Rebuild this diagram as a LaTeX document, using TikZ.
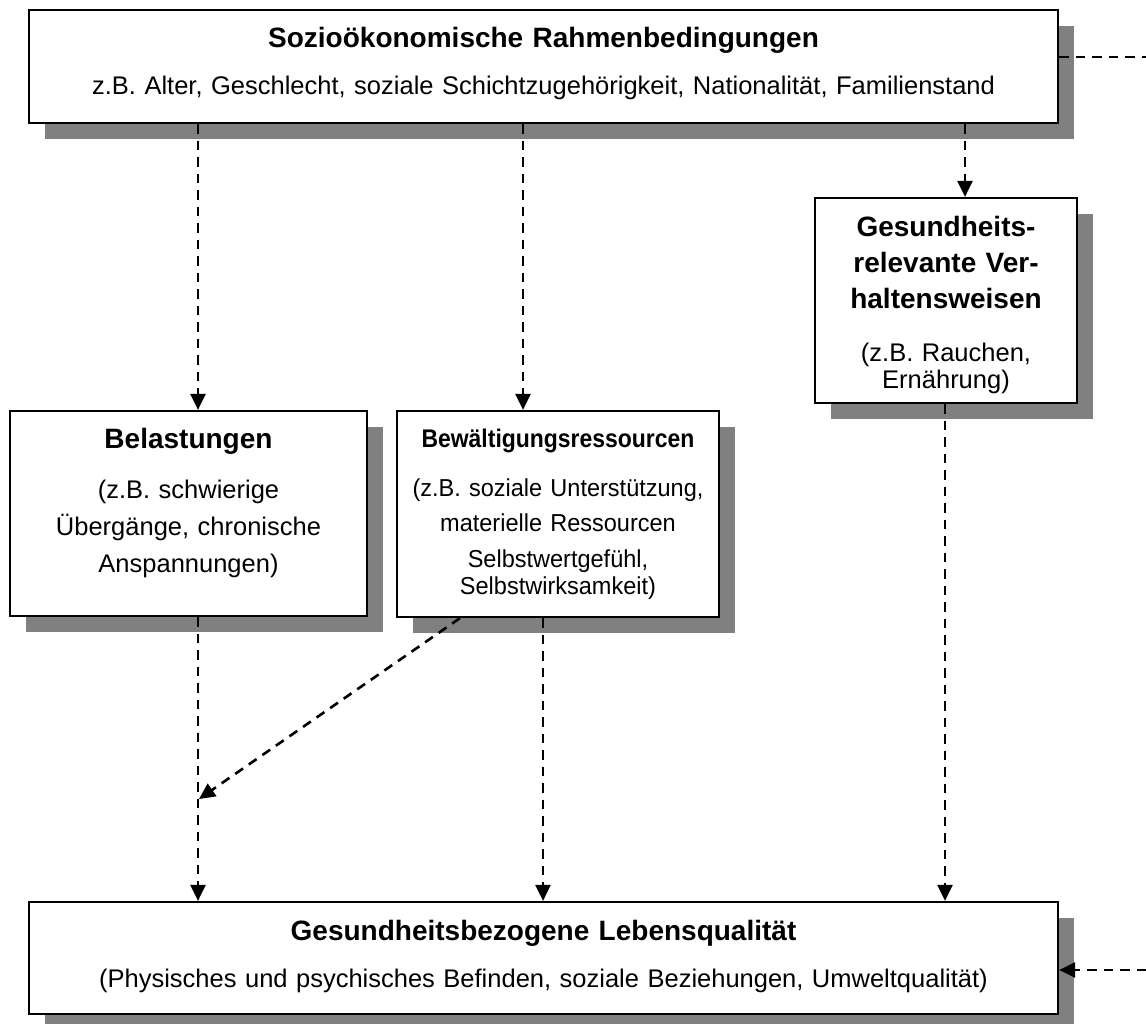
\documentclass[tikz,border=0pt]{standalone}
\usepackage{fontspec}
\setmainfont{Liberation Sans}
\newfontfamily\narrowttl[FakeStretch=0.9]{Liberation Sans}
\newfontfamily\narrowbody[FakeStretch=0.96]{Liberation Sans}
\usetikzlibrary{shadows,arrows.meta}
\definecolor{shadowgray}{RGB}{128,128,128}
\tikzset{
  box/.style={draw=black, line width=2.2pt, fill=white, inner sep=0pt,
    drop shadow={shadow xshift=16pt, shadow yshift=-16pt, fill=shadowgray, opacity=1}},
  ttl/.style={anchor=base, inner sep=0pt, align=center, text width=#1,
    font=\bfseries\fontsize{28}{36}\selectfont},
  body/.style={anchor=base, inner sep=0pt, align=center, text width=#1,
    font=\fontsize{25.5}{36}\selectfont},
  conn/.style={draw=black, line width=2.6pt, dash pattern=on 9.5pt off 7pt,
    -{Triangle[length=16pt,width=15pt]}},
  plainconn/.style={draw=black, line width=2.6pt, dash pattern=on 9.5pt off 7pt}
}
\begin{document}
\begin{tikzpicture}[x=1pt,y=-1pt]
\useasboundingbox (0,0) rectangle (1146,1024);
% boxes
\node[box, minimum width=1029pt, minimum height=113pt] (top) at (543.5,66.5) {};
\node[box, minimum width=262pt, minimum height=205pt] (ges) at (946,300.5) {};
\node[box, minimum width=357pt, minimum height=205pt] (bel) at (188.5,513.5) {};
\node[box, minimum width=322pt, minimum height=206pt] (bew) at (558,514) {};
\node[box, minimum width=1029pt, minimum height=112pt] (bot) at (543.5,958) {};
% texts
\node[ttl=1000pt] (topT) at (543.5,48) {Sozioökonomische Rahmenbedingungen};
\node[body=1000pt] (topB) at (543.5,95) {z.B. Alter, Geschlecht, soziale Schichtzugehörigkeit, Nationalität, Familienstand};
\node[ttl=400pt] (gesT) at (946,237) {Gesundheits-\\relevante Ver-\\haltensweisen};
\node[body=400pt] (gesB) at (946,362) {(z.B. Rauchen,\\[-9pt]Ernährung)};
\node[ttl=400pt] (belT) at (188.5,448) {Belastungen};
\node[body=400pt, font=\fontsize{25.5}{37}\selectfont] (belB) at (188.5,498) {(z.B. schwierige\\Übergänge, chronische\\Anspannungen)};
\node[ttl=400pt, font=\narrowttl\bfseries\fontsize{25.5}{36}\selectfont] (bewT) at (558,447) {Bewältigungsressourcen};
\node[body=400pt, font=\narrowbody\fontsize{24.5}{35.5}\selectfont] (bewB) at (558,496) {(z.B. soziale Unterstützung,\\materielle Ressourcen\\Selbstwertgefühl,\\[-8pt]Selbstwirksamkeit)};
\node[ttl=1000pt] (botT) at (543.5,940) {Gesundheitsbezogene Lebensqualität};
\node[body=1000pt] (botB) at (543.5,987) {(Physisches und psychisches Befinden, soziale Beziehungen, Umweltqualität)};
% helper coordinates
\coordinate (x1) at (198,0);
\coordinate (x2) at (523,0);
\coordinate (x3) at (543,0);
\coordinate (x4) at (965,0);
\coordinate (x5) at (945,0);
\coordinate (dstart) at (460,0);
\coordinate (m) at (199,799);
\coordinate (r1) at (1146,57);
\coordinate (r2) at (1146,970);
% connectors
\draw[conn] (top.south -| x1) -- (bel.north -| x1);
\draw[conn] (top.south -| x2) -- (bew.north -| x2);
\draw[conn] (top.south -| x4) -- (ges.north -| x4);
\draw[conn] (bel.south -| x1) -- (bot.north -| x1);
\draw[conn] (bew.south -| x3) -- (bot.north -| x3);
\draw[conn] (ges.south -| x5) -- (bot.north -| x5);
\draw[conn] (bew.south -| dstart) -- (m);
\draw[plainconn] (top.east |- r1) -- (r1);
\draw[conn] (r2) -- (bot.east |- r2);
\end{tikzpicture}
\end{document}
